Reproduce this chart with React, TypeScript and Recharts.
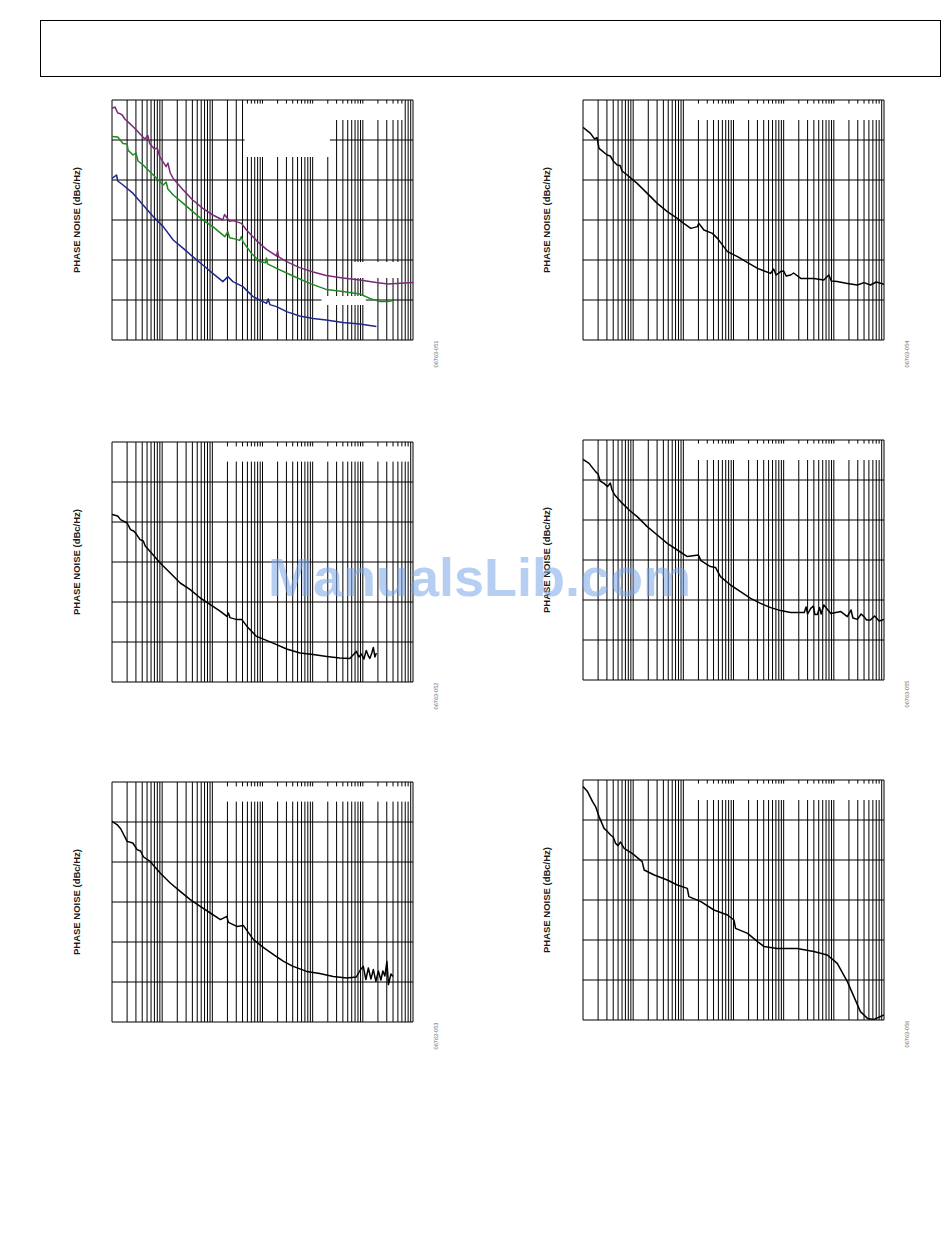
import React from 'react';
import { LineChart, Line, XAxis, YAxis, ReferenceLine } from 'recharts';

type Pt = [number, number]; // [offset frequency Hz, phase noise dBc/Hz]

const decades = [1e2, 1e3, 1e4, 1e5, 1e6, 1e7];
const minorSteps = [1, 2, 3, 4, 5, 6, 7, 8, 9];
const freqTicks = [...decades.flatMap((d) => minorSteps.map((m) => m * d)), 1e8];
const noiseTicks = [-160, -140, -120, -100, -80, -60, -40];

const yLabel = 'PHASE NOISE (dBc/Hz)';
const figureIds = ['06763-051', '06763-054', '06763-052', '06763-055', '06763-053', '06763-056'];

// chart 1: three traces
const c1Purple: Pt[] = [
  [1.0e2, -44.2], [1.15e2, -43.5], [1.3e2, -46.5], [1.41e2, -46.7], [1.6e2, -47.5], [1.8e2, -49.5],
  [2.24e2, -51.7], [2.8e2, -54], [3.55e2, -56.7], [4.5e2, -59.5], [5.2e2, -57.8], [5.62e2, -61.7],
  [7.0e2, -64.5], [8.0e2, -64], [8.91e2, -68.3], [1.2e3, -73.3], [1.3e3, -71.5], [1.45e3, -76.5],
  [1.66e3, -79.2], [2.63e3, -85], [4.07e3, -90], [6.46e3, -94.2], [1.02e4, -97.5], [1.62e4, -100],
  [1.75e4, -97.2], [1.91e4, -98.5], [2.2e4, -100.6], [2.57e4, -100.3], [3.3e4, -101.2], [3.8e4, -101.7],
  [4.79e4, -105], [7.59e4, -110.3], [1.2e5, -114.7], [1.91e5, -118], [2.0e5, -115.5], [2.1e5, -118.4],
  [3.02e5, -120.8], [5.5e5, -123.8], [1.02e6, -126], [1.86e6, -127.7], [3.98e6, -129], [8.71e6, -130],
  [1.86e7, -131.3], [3.16e7, -132], [4.68e7, -131.7], [1e8, -131.2],
];
const c1Green: Pt[] = [
  [1e2, -58.3], [1.3e2, -58.5], [1.66e2, -61.7], [2.0e2, -62], [2.1e2, -65.2], [2.63e2, -67.5],
  [3.0e2, -66.5], [3.3e2, -70.5], [4.17e2, -72.5], [6.61e2, -77.5], [1.05e3, -82.5], [1.2e3, -81],
  [1.3e3, -84.5], [1.66e3, -87.5], [2.63e3, -91.7], [4.07e3, -95.8], [6.46e3, -100], [1.02e4, -103.3],
  [1.78e4, -108.3], [2.04e4, -105.8], [2.2e4, -108.9], [2.57e4, -109.2], [3.5e4, -110.2], [3.8e4, -108.3],
  [4.07e4, -110.8], [6.03e4, -116.7], [8.71e4, -120.8], [1.15e5, -121.4], [1.2e5, -119], [1.26e5, -121.9],
  [1.91e5, -124.2], [4.07e5, -128], [8.71e5, -131.7], [1.86e6, -134.7], [3.98e6, -135.8], [8.71e6, -137],
  [1.38e7, -139.2], [2.19e7, -140.8], [3.16e7, -140.8], [3.98e7, -140.3],
];
const c1Blue: Pt[] = [
  [1e2, -79.2], [1.23e2, -77.5], [1.3e2, -80.5], [1.66e2, -82.5], [2.63e2, -86.7], [4.17e2, -92.5],
  [6.61e2, -98.3], [1.05e3, -103.3], [1.66e3, -110], [2.63e3, -114.2], [4.07e3, -118.3], [6.46e3, -122.5],
  [1.02e4, -126.7], [1.62e4, -130.8], [2.04e4, -128.3], [2.57e4, -130.8], [4.07e4, -133.3], [6.46e4, -138.3],
  [1.2e5, -141.7], [1.3e5, -139.5], [1.4e5, -142.3], [1.91e5, -143.3], [3.02e5, -145.8], [5.5e5, -148],
  [1.02e6, -149.2], [1.86e6, -150], [3.98e6, -151.2], [8.71e6, -152], [1.86e7, -153.3],
];

const c2Trace: Pt[] = [
  [1e2, -53.7], [1.41e2, -56.7], [1.7e2, -59.5], [1.9e2, -58.8], [2.09e2, -64.2], [3.02e2, -67.5],
  [3.5e2, -68], [4.0e2, -70.5], [4.79e2, -72.5], [5.5e2, -72.8], [6.0e2, -75.5], [7.59e2, -77.5],
  [1.2e3, -81.7], [1.91e3, -86.7], [3.02e3, -91.7], [4.79e3, -95.8], [7.59e3, -99.2], [1.02e4, -101.7],
  [1.41e4, -104.2], [1.91e4, -103.3], [2.04e4, -101.7], [2.57e4, -105], [3.8e4, -106.7], [4.79e4, -109.2],
  [7.59e4, -115.8], [1.2e5, -118.3], [1.91e5, -121.3], [3.02e5, -124.2], [5.5e5, -126.7], [6.31e5, -124.5],
  [7.08e5, -127.5], [8.71e5, -125.8], [1.0e6, -125.5], [1.12e6, -128], [1.38e6, -127.5], [1.58e6, -126.5],
  [2.19e6, -129.2], [3.98e6, -129.2], [6.31e6, -130], [7.94e6, -127.5], [8.9e6, -130.5], [1.17e7, -130.8],
  [1.86e7, -131.7], [2.95e7, -132.5], [3.98e7, -131.3], [5.37e7, -132.5], [7.0e7, -131], [1e8, -132.2],
];

const c3Trace: Pt[] = [
  [1e2, -76.3], [1.3e2, -77], [1.48e2, -78.8], [2.0e2, -80.5], [2.34e2, -83.8], [2.7e2, -84.5],
  [3.0e2, -85.8], [3.63e2, -88.8], [4.2e2, -89.5], [4.6e2, -92], [5.75e2, -94.7], [9.12e2, -100.5],
  [1.45e3, -105.5], [2.29e3, -110.5], [3.63e3, -113.8], [5.75e3, -118], [9.12e3, -121.3], [1.45e4, -124.7],
  [1.95e4, -127.2], [2.09e4, -125.5], [2.24e4, -127.8], [3.09e4, -128.8], [3.89e4, -128.8], [4.9e4, -132.2],
  [7.59e4, -137.2], [1.2e5, -139.2], [1.91e5, -141.3], [3.02e5, -143.5], [5.62e5, -145.5], [1.02e6, -146.3],
  [1.91e6, -147.2], [3.47e6, -148], [5.5e6, -148.2], [7.41e6, -144.7], [8.32e6, -147.5], [9.33e6, -146],
  [1.05e7, -148.5], [1.17e7, -144.2], [1.29e7, -147], [1.38e7, -148.2], [1.51e7, -145.5], [1.62e7, -142.7],
  [1.74e7, -147.5], [1.86e7, -145.5],
];

const c4Trace: Pt[] = [
  [1e2, -49.7], [1.32e2, -51.7], [1.78e2, -55.8], [2.0e2, -57], [2.2e2, -60.5], [2.63e2, -61.7],
  [3.09e2, -63.3], [3.5e2, -61.5], [3.8e2, -65], [4.3e2, -67.5], [5.62e2, -70.8], [8.32e2, -75],
  [1.2e3, -78.3], [1.91e3, -83.3], [3.02e3, -87.5], [4.79e3, -91.7], [7.59e3, -95], [1.2e4, -98.3],
  [2.0e4, -97.5], [2.24e4, -100.3], [3.47e4, -103.3], [4.37e4, -103.7], [5.5e4, -108.3], [8.71e4, -112.5],
  [1.38e5, -115.8], [2.19e5, -119.2], [3.47e5, -121.7], [5.5e5, -123.8], [8.71e5, -125.3], [1.38e6, -126.2],
  [2.57e6, -126.3], [2.8e6, -123.5], [3.0e6, -127], [3.47e6, -124.2], [3.9e6, -123], [4.2e6, -127.3],
  [4.68e6, -127.2], [5.2e6, -123.8], [5.6e6, -127], [6.31e6, -122.5], [8.71e6, -126.7], [1.38e7, -125.8],
  [1.86e7, -128.3], [2.2e7, -125], [2.4e7, -129], [2.95e7, -129.7], [3.5e7, -127], [3.98e7, -128.3],
  [4.5e7, -130], [5.37e7, -130], [6.5e7, -128], [8.0e7, -130.5], [1e8, -129.7],
];

const c5Trace: Pt[] = [
  [1e2, -59.7], [1.26e2, -61.3], [1.5e2, -63.5], [2.0e2, -69.7], [2.6e2, -70.5], [3.16e2, -73.8],
  [3.7e2, -74.5], [4.27e2, -77.5], [5.75e2, -79.7], [9.12e2, -85.5], [1.45e3, -90.5], [2.29e3, -94.7],
  [3.63e3, -98.8], [5.75e3, -102.2], [9.12e3, -105.5], [1.45e4, -108.8], [1.95e4, -107.2], [2.09e4, -110.2],
  [3.09e4, -112.2], [4.17e4, -111.8], [6.61e4, -118.8], [1.05e5, -122.8], [1.66e5, -126.3], [2.63e5, -129.7],
  [4.07e5, -132.2], [7.59e5, -134.7], [1.38e6, -135.8], [2.57e6, -137.2], [4.79e6, -138], [7.41e6, -137.5],
  [8.91e6, -134], [1.02e7, -132.2], [1.15e7, -138.8], [1.29e7, -133], [1.45e7, -138.5], [1.62e7, -133.8],
  [1.82e7, -139.7], [2.04e7, -134.5], [2.29e7, -139], [2.51e7, -134.5], [2.75e7, -137], [3.02e7, -129.7],
  [3.24e7, -141.3], [3.63e7, -136], [3.98e7, -137.2],
];

const c6Trace: Pt[] = [
  [1e2, -43.3], [1.23e2, -45.8], [1.55e2, -50.8], [1.78e2, -53.3], [2.09e2, -58.3], [2.63e2, -64.2],
  [3.0e2, -65.5], [3.55e2, -67.5], [4.0e2, -68.5], [4.47e2, -71.7], [5.0e2, -72.8], [5.6e2, -71],
  [6.61e2, -74.2], [9.55e2, -76.7], [1.51e3, -80.8], [1.66e3, -85], [2.63e3, -87.5], [4.79e3, -90],
  [7.59e3, -92.5], [1.2e4, -94.2], [1.29e4, -98.3], [2.24e4, -100.8], [4.07e4, -105], [7.59e4, -107.5],
  [1.02e5, -110], [1.1e5, -114.2], [1.91e5, -116.7], [3.02e5, -120.8], [4.07e5, -123.3], [7.41e5, -124.2],
  [1.86e6, -124.2], [3.98e6, -125.8], [7.41e6, -127.5], [1.17e7, -131.7], [1.86e7, -140.8], [2.51e7, -148.3],
  [3.39e7, -155.8], [4.68e7, -159.2], [6.31e7, -159.7], [1e8, -157.5],
];

// blank areas where the original in-plot text was removed: [f1, f2, dBtop, dBbottom]
type Box = [number, number, number, number];
const c1Boxes: Box[] = [
  [4.4e4, 2.2e6, -41.8, -68.5], [2.2e6, 6.8e7, -41.8, -50],
  [6.8e6, 5.4e7, -121, -129], [1.5e6, 1.15e7, -138, -142.5],
];
const rightBoxes: Box[] = [[1.2e4, 8.5e7, -41.8, -50]];
const leftBoxes: Box[] = [[1.2e4, 8.5e7, -42.2, -49.8]];

type Series = { points: Pt[]; color: string };

const panels: { left: number; top: number; series: Series[]; boxes: Box[] }[] = [
  {
    left: 112, top: 100, boxes: c1Boxes,
    series: [
      { points: c1Purple, color: '#7a2a78' },
      { points: c1Green, color: '#1e8a1e' },
      { points: c1Blue, color: '#1d2a8a' },
    ],
  },
  { left: 582.5, top: 100, boxes: rightBoxes, series: [{ points: c2Trace, color: '#000' }] },
  { left: 112, top: 442, boxes: leftBoxes, series: [{ points: c3Trace, color: '#000' }] },
  { left: 582.5, top: 440, boxes: rightBoxes, series: [{ points: c4Trace, color: '#000' }] },
  { left: 112, top: 782, boxes: leftBoxes, series: [{ points: c5Trace, color: '#000' }] },
  { left: 582.5, top: 780, boxes: rightBoxes, series: [{ points: c6Trace, color: '#000' }] },
];

const PLOT_W = 301;
const PLOT_H = 240;

// split [lo, hi] around the gaps
const cut = (lo: number, hi: number, gaps: [number, number][]) => {
  let parts: [number, number][] = [[lo, hi]];
  gaps.forEach(([g0, g1]) => {
    parts = parts.flatMap(([a, b]): [number, number][] => {
      if (g1 <= a || g0 >= b) return [[a, b]];
      const out: [number, number][] = [];
      if (g0 > a) out.push([a, g0]);
      if (g1 < b) out.push([g1, b]);
      return out;
    });
  });
  return parts;
};

const PhasePlot = ({ left, top, series, boxes }: { left: number; top: number; series: Series[]; boxes: Box[] }) => {
  const vSegs = freqTicks.flatMap((f) =>
    cut(-160, -40, boxes.filter((b) => b[0] < f && f < b[1]).map((b): [number, number] => [b[3], b[2]])).map(
      ([a, b]) => ({ key: `v${f}_${a}`, seg: [{ x: f, y: a }, { x: f, y: b }] }),
    ),
  );
  const hSegs = noiseTicks.flatMap((db) =>
    cut(1e2, 1e8, boxes.filter((b) => b[3] < db && db < b[2]).map((b): [number, number] => [b[0], b[1]])).map(
      ([a, b]) => ({ key: `h${db}_${a}`, seg: [{ x: a, y: db }, { x: b, y: db }] }),
    ),
  );
  return (
    <div style={{ position: 'absolute', left: left - 1, top: top - 1 }}>
      <LineChart width={PLOT_W + 2} height={PLOT_H + 2} margin={{ top: 1, right: 1, bottom: 1, left: 1 }}>
        <XAxis
          type="number"
          dataKey="f"
          scale="log"
          domain={[1e2, 1e8]}
          ticks={freqTicks}
          allowDataOverflow
          height={0}
          tick={false}
          tickLine={false}
          axisLine={false}
        />
        <YAxis
          type="number"
          domain={[-160, -40]}
          ticks={noiseTicks}
          allowDataOverflow
          width={0}
          tick={false}
          tickLine={false}
          axisLine={false}
        />
        {[...vSegs, ...hSegs].map((s) => (
          <ReferenceLine key={s.key} segment={s.seg} stroke="#000" strokeWidth={1} ifOverflow="visible" />
        ))}
        {series.map((s, i) => (
          <Line
            key={i}
            data={s.points.map(([f, db]) => ({ f, db }))}
            dataKey="db"
            type="linear"
            stroke={s.color}
            strokeWidth={1.5}
            strokeLinejoin="round"
            dot={false}
            isAnimationActive={false}
          />
        ))}
      </LineChart>
    </div>
  );
};

const font = '"Liberation Sans", Arial, sans-serif';

export default function App() {
  return (
    <div style={{ position: 'absolute', left: 0, top: 0, width: 950, height: 1254, background: '#fff', fontFamily: font }}>
      <div style={{ position: 'absolute', left: 40, top: 20, width: 901, height: 57, border: '1.5px solid #000', boxSizing: 'border-box' }} />
      <svg width={950} height={1254} style={{ position: 'absolute', left: 0, top: 0 }}>
        {panels.map((p, i) => {
          const labelX = p.left - 36;
          const cy = p.top + PLOT_H / 2;
          const idX = p.left + PLOT_W + 23;
          const idY = p.top + PLOT_H + 14;
          return (
            <g key={i}>
              <text
                x={labelX}
                y={cy}
                transform={`rotate(-90 ${labelX} ${cy})`}
                textAnchor="middle"
                dominantBaseline="central"
                fontFamily={font}
                fontWeight="bold"
                fontSize={9.5}
                fill="#1a1a1a"
              >
                {yLabel}
              </text>
              <text
                x={idX}
                y={idY}
                transform={`rotate(-90 ${idX} ${idY})`}
                textAnchor="middle"
                dominantBaseline="central"
                fontFamily={font}
                fontSize={5.6}
                fill="#666"
              >
                {figureIds[i]}
              </text>
            </g>
          );
        })}
      </svg>
      {panels.map((p, i) => (
        <PhasePlot key={i} left={p.left} top={p.top} series={p.series} boxes={p.boxes} />
      ))}
      <svg width={950} height={1254} style={{ position: 'absolute', left: 0, top: 0, pointerEvents: 'none' }}>
        <text x={268} y={596} fontFamily={font} fontWeight="bold" fontSize={54} fill="rgb(120,165,230)" fillOpacity={0.55}>
          ManualsLib.com
        </text>
      </svg>
    </div>
  );
}
